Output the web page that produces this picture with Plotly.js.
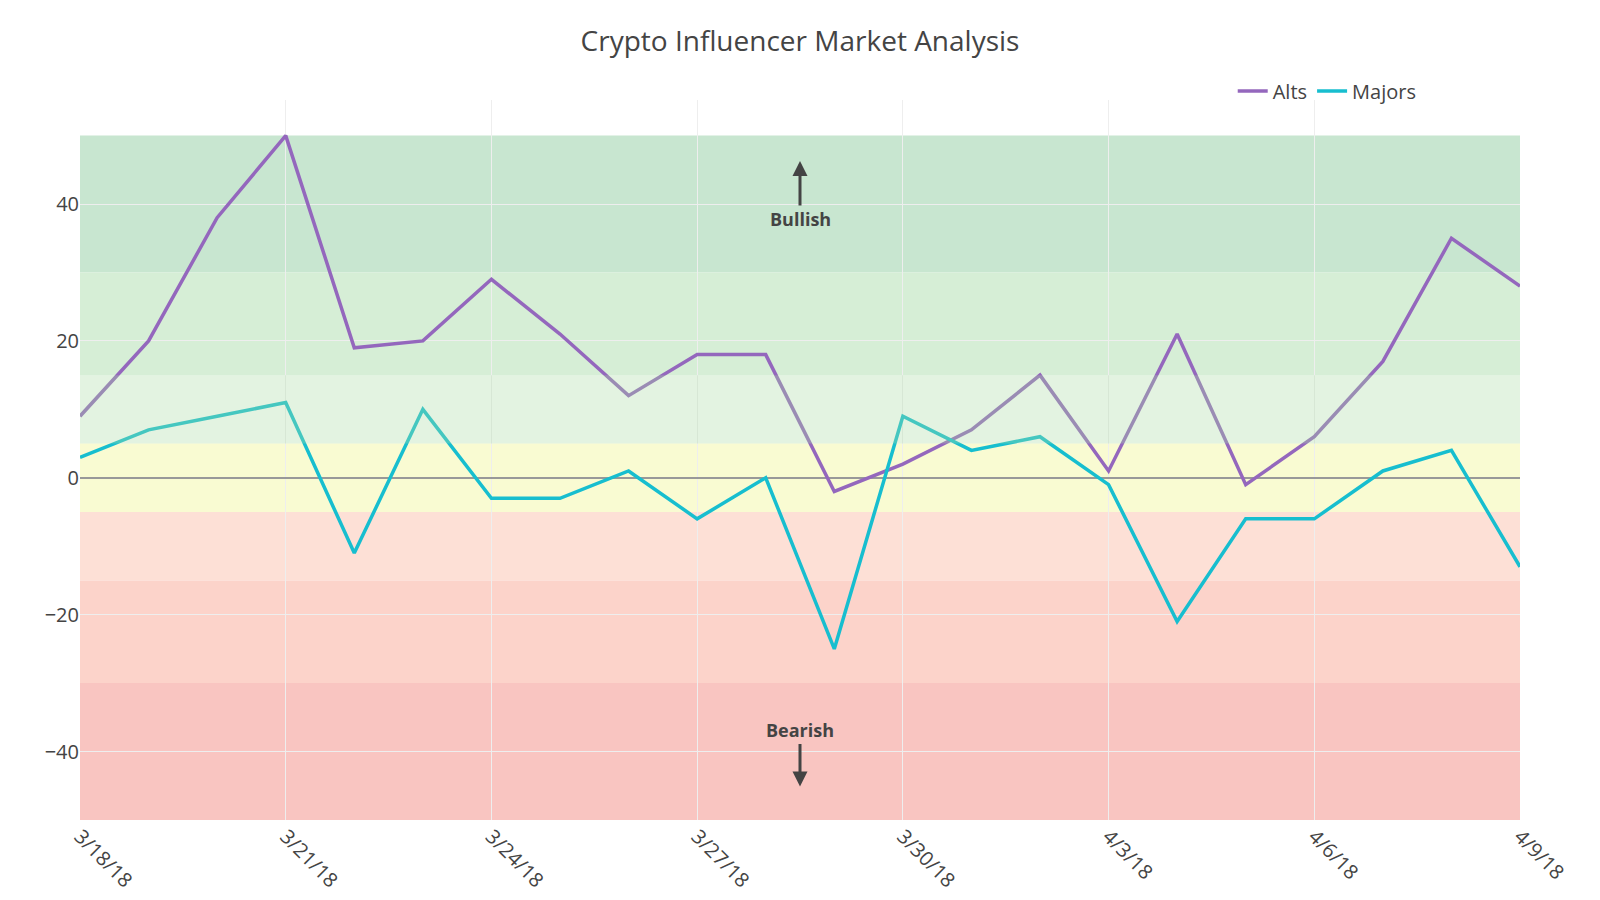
<!DOCTYPE html>
<html>
<head>
<meta charset="utf-8">
<script src="https://cdn.plot.ly/plotly-3.0.1.min.js"></script>
<style>html,body{margin:0;padding:0;background:#fff;}#chart{width:1600px;height:900px;}</style>
</head>
<body>
<div id="chart"></div>
<script>
const dates = ["3/18/18","3/19/18","3/20/18","3/21/18","3/22/18","3/23/18","3/24/18","3/25/18","3/26/18","3/27/18","3/28/18","3/29/18","3/30/18","3/31/18","4/1/18","4/3/18","4/4/18","4/5/18","4/6/18","4/7/18","4/8/18","4/9/18"];
const alts = [9, 20, 38, 50, 19, 20, 29, 21, 12, 18, 18, -2, 2, 7, 15, 1, 21, -1, 6, 17, 35, 28];
const majors = [3, 7, 9, 11, -11, 10, -3, -3, 1, -6, 0, -25, 9, 4, 6, -1, -21, -6, -6, 1, 4, -13];
const bandEdges = [[30, 50], [15, 30], [5, 15], [-5, 5], [-15, -5], [-30, -15], [-50, -30]];
const bandColors = ["#c8e6d0", "#d6eed6", "rgb(168,218,162)", "#f9fbd2", "#fde0d6", "#fcd3ca", "#f9c5c1"];

const traces = [
  {x: dates, y: alts, name: "Alts", type: "scatter", mode: "lines", line: {color: "#9467bd", width: 3.5}},
  {x: dates, y: majors, name: "Majors", type: "scatter", mode: "lines", line: {color: "#17becf", width: 3.5}}
];

const shapes = bandEdges.map((b, i) => {
  const above = i === 2;
  return {
    type: "rect", xref: "paper", yref: "y", x0: 0, x1: 1, y0: b[0], y1: b[1],
    fillcolor: bandColors[i], line: {width: 0},
    layer: above ? "above" : "below", opacity: above ? 0.32 : 1
  };
});

const layout = {
  width: 1600, height: 900,
  font: {family: "Open Sans, sans-serif", size: 20, color: "#444"},
  title: {text: "Crypto Influencer Market Analysis", font: {size: 28}, x: 0.5, xanchor: "center", y: 0.9544, yref: "container", yanchor: "middle"},
  margin: {l: 80, r: 80, t: 100, b: 80},
  paper_bgcolor: "#fff", plot_bgcolor: "#fff",
  xaxis: {type: "category", range: [0, 21], dtick: 3, tickangle: 45, showgrid: true, gridcolor: "#eee", zeroline: false, showline: false},
  yaxis: {range: [-50, 55.2], dtick: 20, showgrid: true, gridcolor: "#eee", zeroline: true, zerolinecolor: "#999", zerolinewidth: 2},
  legend: {orientation: "h", x: 0.8005, xanchor: "left", y: 1.0125, yanchor: "middle", bgcolor: "rgba(0,0,0,0)"},
  showlegend: true,
  shapes: shapes,
  annotations: [
    {x: 10.5, y: 46.3, xref: "x", yref: "y", text: "<b>Bullish</b>", showarrow: true, ax: 0, ay: 58, arrowhead: 2, arrowsize: 1, arrowwidth: 3, arrowcolor: "#444", font: {size: 18, color: "#444"}},
    {x: 10.5, y: -45.1, xref: "x", yref: "y", text: "<b>Bearish</b>", showarrow: true, ax: 0, ay: -56, arrowhead: 2, arrowsize: 1, arrowwidth: 3, arrowcolor: "#444", font: {size: 18, color: "#444"}}
  ]
};

Plotly.newPlot("chart", traces, layout, {displayModeBar: false, responsive: false});
</script>
</body>
</html>
